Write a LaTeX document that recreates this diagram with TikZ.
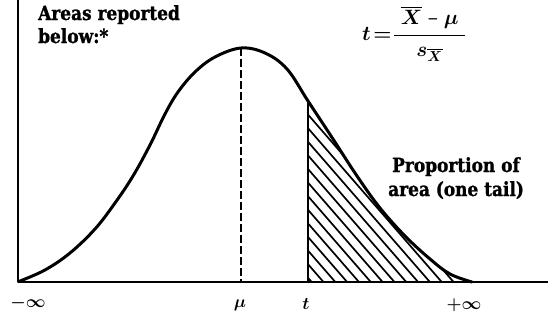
\documentclass[tikz,border=0pt]{standalone}
\usepackage{fontspec}
\usepackage{amsmath}
\usepackage{graphicx}
\setmainfont{DejaVu Serif}[FakeStretch=0.87,BoldFeatures={FakeBold=1.2}]
\begin{document}
\begin{tikzpicture}[x=1pt,y=-1pt,line join=round,line cap=round,
  axisline/.style={line width=2.4pt},
  curveline/.style={line width=3pt},
  meanline/.style={line width=2.6pt,line cap=butt,dash pattern=on 8pt off 3pt},
  tline/.style={line width=2.2pt},
  hatchline/.style={line width=1.7pt},
  lbl/.style={font=\fontsize{19.5}{24}\selectfont\bfseries,inner sep=0pt},
  mlbl/.style={font=\fontsize{18}{20}\selectfont\boldmath,inner sep=0pt}]
\useasboundingbox (0,0) rectangle (548,327);
% axes
\coordinate (top) at (18,0);
\coordinate (origin) at (18,282);
\coordinate (xend) at (548,282);
\draw[axisline] (top) -- (origin) -- (xend);
% hatched tail
\begin{scope}
  \clip (308,0) rectangle (548,282);
  \clip plot[smooth,tension=0.6] coordinates {(20,281) (45,270) (70,253) (95,229) (115,203) (133,176) (150,145) (165,114) (178,92) (195,72) (215,57) (241,48) (265,53) (287,69) (308,101) (333,139) (357,176) (380,208) (405,236) (430,259) (450,274) (472,282)} -- cycle;
  \foreach \k in {0,...,14}
    \draw[hatchline] (308,{101+\k*13.6}) -- ++(260,299);
\end{scope}
% curve
\draw[curveline] plot[smooth,tension=0.6] coordinates {(20,281) (45,270) (70,253) (95,229) (115,203) (133,176) (150,145) (165,114) (178,92) (195,72) (215,57) (241,48) (265,53) (287,69) (308,101) (333,139) (357,176) (380,208) (405,236) (430,259) (450,274) (472,282)};
% mean and t lines
\coordinate (peak) at (241,48);
\coordinate (mufoot) at (241,282);
\coordinate (ttop) at (308,101);
\coordinate (tfoot) at (308,282);
\draw[meanline] (peak) -- (mufoot);
\draw[tline] (ttop) -- (tfoot);
% texts
\node[lbl,anchor=base west] (areas1) at (38,20) {Areas reported};
\node[lbl,anchor=base west] (areas2) at (38,43) {below:*};
\node[lbl,anchor=base west] (prop1) at (392,172) {Proportion of};
\node[lbl,anchor=base west] (prop2) at (388,196) {area (one tail)};
\node[mlbl,anchor=west,font=\fontsize{21}{24}\selectfont\boldmath] (formula) at (362,34)
  {$t\mkern2mu{=}\mkern1mu\dfrac{\;\overline{X}\mathbin{\scalebox{0.6}[1]{$-$}}\mu\;}{s_{\overline{X}}}$};
\node[mlbl] (minf) at (28,303) {$-\infty$};
\node[mlbl] (mu) at (240,305) {$\mu$};
\node[mlbl] (tlab) at (306,304) {$t$};
\node[mlbl] (pinf) at (464,305) {$+\infty$};
\end{tikzpicture}
\end{document}
